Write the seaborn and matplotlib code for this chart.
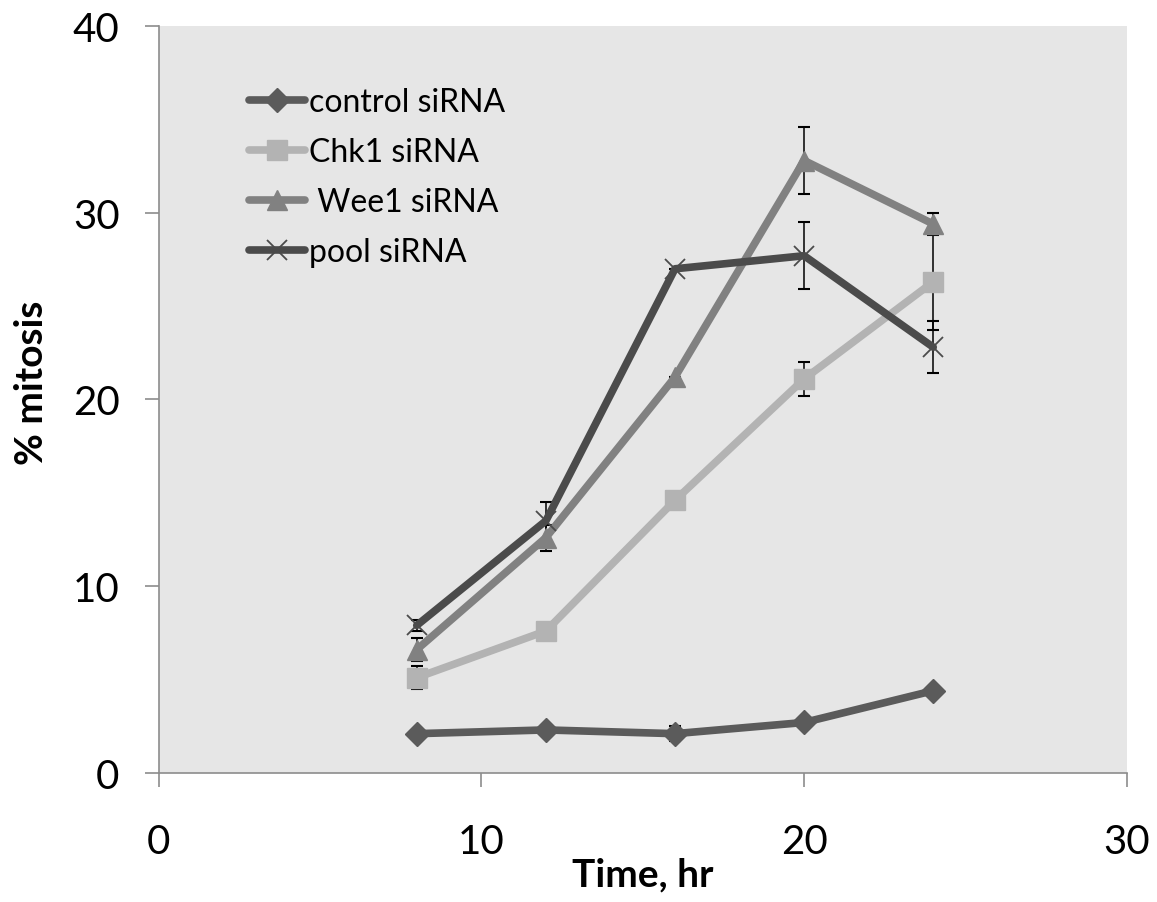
import numpy as np
import pandas as pd
import matplotlib
matplotlib.use('Agg')
import matplotlib.pyplot as plt
import seaborn as sns

# Data
time_hr = [8, 12, 16, 20, 24]
control = [2.1, 2.3, 2.1, 2.7, 4.4]
control_err = [0.0, 0.0, 0.4, 0.0, 0.0]
chk1 = [5.1, 7.6, 14.6, 21.1, 26.3]
chk1_err = [0.6, 0.0, 0.0, 0.9, 2.6]
wee1 = [6.6, 12.6, 21.2, 32.8, 29.4]
wee1_err = [0.6, 0.7, 0.0, 1.8, 0.6]
pool = [7.9, 13.5, 27.0, 27.7, 22.8]
pool_err = [0.3, 1.0, 0.0, 1.8, 1.4]

labels = ['control siRNA', 'Chk1 siRNA', ' Wee1 siRNA', 'pool siRNA']
colors = ['#5b5b5b', '#b3b3b3', '#818181', '#4b4b4b']
markers = ['D', 's', '^', 'x']
msizes = [12, 14, 14, 15]

series = [control, chk1, wee1, pool]
errors = [control_err, chk1_err, wee1_err, pool_err]

sns.set_style("white")
plt.rcParams['font.family'] = ['Lato', 'DejaVu Sans']
plt.rcParams['text.color'] = 'black'
plt.rcParams['axes.labelcolor'] = 'black'

fig = plt.figure(figsize=(11.57, 9.03), dpi=100)
ax = fig.add_axes([0.137, 0.143, 0.837, 0.827])
ax.set_facecolor('#e6e6e6')

# error bars first, lines on top
for vals, err in zip(series, errors):
    ax.errorbar(time_hr, vals, yerr=err, fmt='none', ecolor='black',
                elinewidth=1.1, capsize=4, capthick=1.5, zorder=2)

for vals, lab, col, mk, ms in zip(series, labels, colors, markers, msizes):
    df = pd.DataFrame({'Time': time_hr, 'Value': vals})
    sns.lineplot(data=df, x='Time', y='Value', ax=ax, color=col, linewidth=5.5,
                 marker=mk, markersize=ms, markeredgecolor=col,
                 markeredgewidth=1.0 if mk != 'x' else 1.3, label=lab, zorder=3)

ax.set_xlim(0, 30)
ax.set_ylim(0, 40)
ax.set_xticks([0, 10, 20, 30])
ax.set_yticks([0, 10, 20, 30, 40])
ax.tick_params(axis='both', labelsize=29, direction='out', length=10,
               color='#8c8c8c', width=1.2, bottom=True, left=True,
               labelcolor='black')
ax.tick_params(axis='x', pad=26)
ax.tick_params(axis='y', pad=18)

for s in ['top', 'right']:
    ax.spines[s].set_visible(False)
for s in ['left', 'bottom']:
    ax.spines[s].set_color('#8c8c8c')
    ax.spines[s].set_linewidth(1.2)

ax.set_xlabel('Time, hr', fontsize=28, fontweight='bold', va='top')
ax.xaxis.set_label_coords(0.5, -0.112)
ax.set_ylabel('% mitosis', fontsize=28, fontweight='bold', va='center')
ax.yaxis.set_label_coords(-0.131, 0.523)

leg = ax.legend(loc='upper left', bbox_to_anchor=(0.08, 0.935), frameon=False,
                fontsize=23, handlelength=1.75, handletextpad=0.15,
                labelspacing=0.62, borderaxespad=0)

fig.savefig('out.png', dpi=100, facecolor='white')
